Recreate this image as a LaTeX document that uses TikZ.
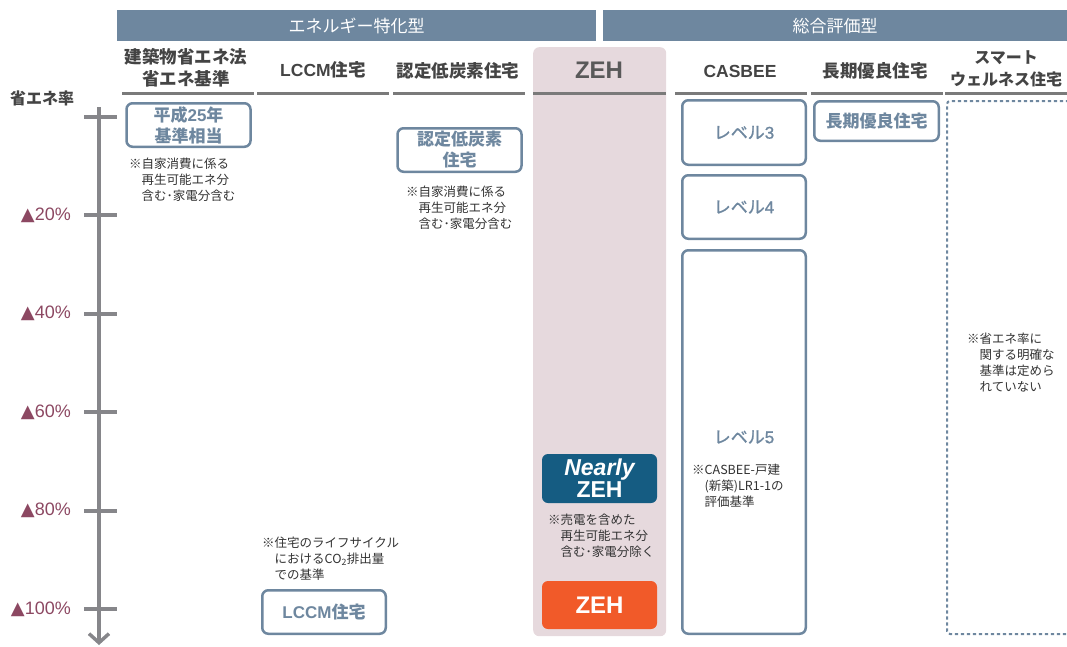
\documentclass[tikz,border=0pt]{standalone}
\usepackage{fontspec}
\setmainfont{Liberation Sans}
\newfontfamily\jp{Noto Sans CJK JP}
\newfontfamily\jpm{Noto Sans CJK JP}[FakeBold=1.2]
\newfontfamily\enm{Liberation Sans}[FakeBold=1.2]
\newfontfamily\tri{DejaVu Sans}
\usetikzlibrary{arrows.meta}
\definecolor{slate}{HTML}{6E879F}
\definecolor{zehbg}{HTML}{E6D9DD}
\definecolor{navy}{HTML}{155C82}
\definecolor{orng}{HTML}{F15A29}
\definecolor{maroon}{HTML}{8C4862}
\definecolor{hdrc}{HTML}{444444}
\definecolor{zehhdr}{HTML}{595959}
\definecolor{rulec}{HTML}{7A7A7A}
\definecolor{axisc}{HTML}{86868A}
\definecolor{notec}{HTML}{333333}
\tikzset{
 bar/.style={fill=slate, text=white, font=\jp\fontsize{17}{20}\selectfont, inner sep=0pt, anchor=north west},
 hdr/.style={text=hdrc, font=\jp\bfseries\fontsize{17.5}{22}\selectfont, align=center, inner sep=0pt},
 hline/.style={draw=rulec, line width=2.2pt},
 obox/.style={draw=slate, line width=2.5pt, rounded corners=6pt, fill=white, text=slate, font=\jp\bfseries\fontsize{17}{21}\selectfont, align=center, inner sep=0pt},
 lvl/.style={obox, font=\jpm\fontsize{17}{21}\selectfont},
 fillbox/.style={rounded corners=6pt, text=white, font=\bfseries\fontsize{23}{22}\selectfont, align=center, inner sep=0pt},
 note/.style={anchor=north west, inner sep=0pt, align=left, text=notec, font=\jp\fontsize{12.5}{16}\selectfont},
 pct/.style={anchor=east, inner sep=0pt, text=maroon, font=\fontsize{18}{20}\selectfont},
 axisline/.style={draw=axisc, line width=4pt},
}
\begin{document}
\begin{tikzpicture}[x=1pt,y=-1pt]
\useasboundingbox (0,0) rectangle (1067,646);

% category bars
\node[bar, minimum width=479pt, minimum height=31pt] (bar1) at (117,10) {エネルギー特化型};
\node[bar, minimum width=464pt, minimum height=31pt] (bar2) at (603,10) {総合評価型};

% ZEH column background
\node[fill=zehbg, rounded corners=6pt, minimum width=133pt, minimum height=589pt, anchor=north west, inner sep=0pt] (zehbg) at (533,47) {};

% column headers
\node[hdr] (h1) at (186,68) {建築物省エネ法\\省エネ基準};
\node[hdr] (h2) at (323,70) {{\rmfamily LCCM}住宅};
\node[hdr] (h3) at (458,71) {認定低炭素住宅};
\node[hdr, text=zehhdr, font=\bfseries\fontsize{24}{26}\selectfont] (h4) at (599,70) {ZEH};
\node[hdr, font=\bfseries\fontsize{17.5}{22}\selectfont] (h5) at (740,71) {CASBEE};
\node[hdr] (h6) at (875,71) {長期優良住宅};
\node[hdr, font=\jp\bfseries\fontsize{16}{22}\selectfont] (h7) at (1006,69) {スマート\\ウェルネス住宅};

% header underlines
\foreach \a/\b in {122/254, 257/389, 393/525, 533/666, 675/807, 811/943, 945/1067}
  \draw[hline] (\a,93.5) -- (\b,93.5);

% axis
\node[hdr, font=\jp\bfseries\fontsize{16}{18}\selectfont] (rate) at (42,98) {省エネ率};
\coordinate (axtop) at (99,107);
\coordinate (axend) at (99,645);
\draw[axisline, -{Straight Barb[length=9pt, width=20pt, line width=3.5pt]}] (axtop) -- (axend);
\foreach \y in {117,215.4,313.8,412.2,510.6,609}
  \draw[axisline] (84,\y) -- (117,\y);
\node[pct] (p20) at (71,215.4) {{\tri ▲}20\%};
\node[pct] (p40) at (71,313.8) {{\tri ▲}40\%};
\node[pct] (p60) at (71,412.2) {{\tri ▲}60\%};
\node[pct] (p80) at (71,510.6) {{\tri ▲}80\%};
\node[pct] (p100) at (71,609) {{\tri ▲}100\%};

% energy-specialised boxes
\node[obox, minimum width=124pt, minimum height=43.5pt] (b25) at (188.5,125) {平成{\rmfamily 25}年\\基準相当};
\node[note] (n1) at (129,158) {※自家消費に係る\\\hspace*{1em}再生可能エネ分\\\hspace*{1em}含む･家電分含む};

\node[obox, minimum width=124pt, minimum height=43.5pt] (bnt) at (459.5,150) {認定低炭素\\住宅};
\node[note] (n2) at (406,186) {※自家消費に係る\\\hspace*{1em}再生可能エネ分\\\hspace*{1em}含む･家電分含む};

\node[note] (n3) at (262,537) {※住宅のライフサイクル\\\hspace*{1em}におけるCO\textsubscript{2}排出量\\\hspace*{1em}での基準};
\node[obox, minimum width=123.5pt, minimum height=43.5pt] (blccm) at (324,612) {{\rmfamily LCCM}住宅};

% ZEH column
\node[fillbox, fill=navy, minimum width=115pt, minimum height=49pt] (nz) at (599.5,478.5) {{\itshape Nearly}\\ZEH};
\node[note] (n4) at (548,514) {※売電を含めた\\\hspace*{1em}再生可能エネ分\\\hspace*{1em}含む･家電分除く};
\node[fillbox, fill=orng, minimum width=115pt, minimum height=48pt, font=\bfseries\fontsize{24}{24}\selectfont] (z) at (599.5,605) {ZEH};

% CASBEE column
\node[lvl, minimum width=123.5pt, minimum height=64.5pt] (c3) at (744,132.5) {レベル{\enm 3}};
\node[lvl, minimum width=123.5pt, minimum height=63.5pt] (c4) at (744,207) {レベル{\enm 4}};
\node[lvl, minimum width=123.5pt, minimum height=383.5pt] (c5) at (744,442) {};
\node[text=slate, font=\jpm\fontsize{17}{20}\selectfont, inner sep=0pt] (l5) at (744,437) {レベル{\enm 5}};
\node[note] (n5) at (692,464) {※CASBEE-戸建\\\hspace*{1em}(新築)LR1-1の\\\hspace*{1em}評価基準};

% long-life column
\node[obox, minimum width=124.5pt, minimum height=39.5pt] (k1) at (876.5,121) {長期優良住宅};

% smart wellness column
\draw[draw=slate, line width=2pt, dash pattern=on 3.2pt off 2.8pt, rounded corners=3pt] (1075,101) -- (947,101) -- (947,634) -- (1075,634);
\node[note] (n6) at (967,333) {※省エネ率に\\\hspace*{1em}関する明確な\\\hspace*{1em}基準は定めら\\\hspace*{1em}れていない};
\end{tikzpicture}
\end{document}
